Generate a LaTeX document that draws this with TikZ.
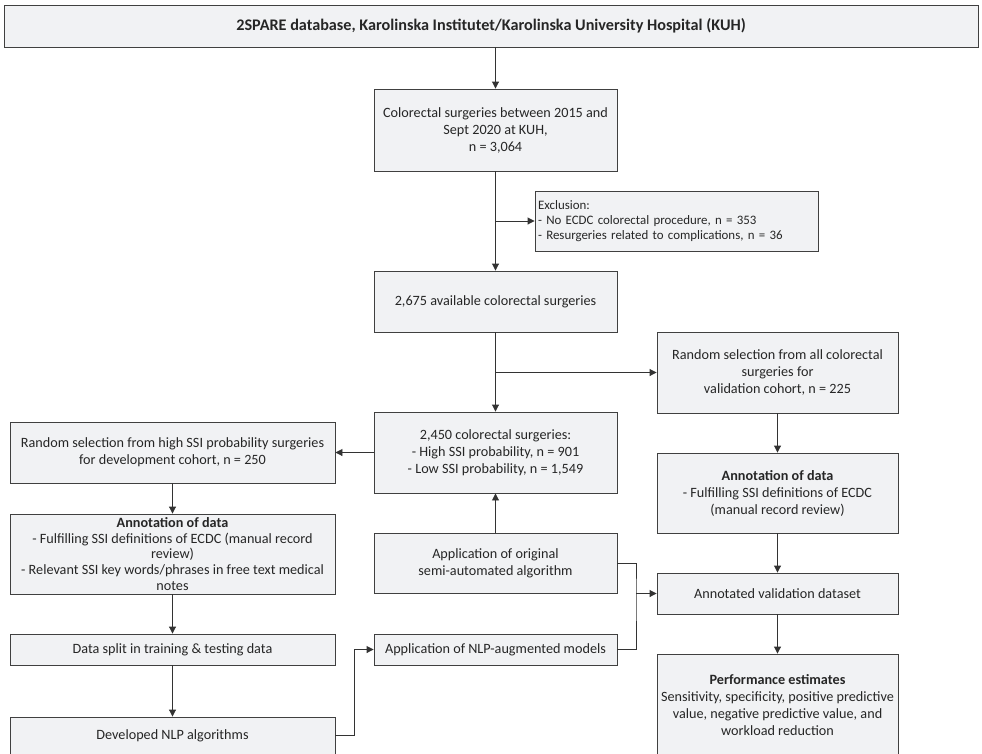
\documentclass[tikz,border=0pt]{standalone}
\usepackage{fontspec}
\setmainfont{Carlito}
\usetikzlibrary{arrows.meta}
\definecolor{boxfill}{RGB}{241,242,244}
\definecolor{boxline}{RGB}{64,64,64}
\definecolor{inktext}{RGB}{38,38,38}

\begin{document}
\begin{tikzpicture}[x=1pt, y=-1pt, >={Triangle[length=7pt,width=7pt]},
  font=\fontsize{14.2pt}{17pt}\selectfont, text=inktext,
  flowbox/.style={draw=boxline, fill=boxfill, line width=0.9pt, inner sep=0pt, align=center},
  notebox/.style={flowbox, align=left, inner xsep=3pt, font=\fontsize{12.9pt}{15.3pt}\selectfont},
  link/.style={draw=boxline!80!black, line width=0.9pt}]
\useasboundingbox (0,0) rectangle (982,753);
% source database
\node[flowbox, minimum width=974, minimum height=42, font=\fontsize{16.2pt}{19pt}\selectfont] (db) at (491,26)
  {\textbf{2SPARE database, Karolinska Institutet/Karolinska University Hospital (KUH)}};
% centre column
\node[flowbox, minimum width=243, minimum height=82] (allsurg) at (495.5,130)
  {Colorectal surgeries between 2015 and\\Sept 2020 at KUH,\\n = 3,064};
\node[notebox, minimum width=283, minimum height=60, text width=277] (excl) at (676.5,221)
  {Exclusion:\\- No ECDC colorectal procedure, n = 353\\- Resurgeries related to complications, n = 36};
\node[flowbox, minimum width=243, minimum height=61] (avail) at (495.5,301.5)
  {2,675 available colorectal surgeries};
\node[flowbox, minimum width=243, minimum height=81] (cohort) at (495.5,452.5)
  {2,450 colorectal surgeries:\\- High SSI probability, n = 901\\- Low SSI probability, n = 1,549};
\node[flowbox, minimum width=243, minimum height=60] (origalg) at (495.5,563)
  {Application of original\\semi-automated algorithm};
\node[flowbox, minimum width=243, minimum height=31] (nlpapp) at (495.5,649.5)
  {Application of NLP-augmented models};
% development column
\node[flowbox, minimum width=325, minimum height=61] (devsel) at (172.5,452.5)
  {Random selection from high SSI probability surgeries\\for development cohort, n = 250};
\node[flowbox, minimum width=325, minimum height=80, font=\fontsize{14.2pt}{15.8pt}\selectfont] (devanno) at (172.5,554)
  {\textbf{Annotation of data}\\- Fulfilling SSI definitions of ECDC (manual record\\review)\\- Relevant SSI key words/phrases in free text medical\\notes};
\node[flowbox, minimum width=325, minimum height=31] (split) at (172.5,649.5)
  {Data split in training \& testing data};
\node[flowbox, minimum width=325, minimum height=37] (nlpdev) at (172.5,735.5)
  {Developed NLP algorithms};
% validation column
\node[flowbox, minimum width=241, minimum height=81] (valsel) at (777.5,372.5)
  {Random selection from all colorectal\\surgeries for\\validation cohort, n = 225};
\node[flowbox, minimum width=241, minimum height=80] (valanno) at (777.5,493)
  {\textbf{Annotation of data}\\- Fulfilling SSI definitions of ECDC\\(manual record review)};
\node[flowbox, minimum width=241, minimum height=41] (valset) at (777.5,593.5)
  {Annotated validation dataset};
\node[flowbox, minimum width=241, minimum height=102] (perf) at (777.5,705)
  {\textbf{Performance estimates}\\Sensitivity, specificity, positive predictive\\value, negative predictive value, and\\workload reduction};
% connectors
\draw[link, ->] (allsurg.north |- db.south) -- (allsurg.north);
\draw[link, ->] (allsurg.south) -- (avail.north);
\draw[link, ->] (allsurg.south |- excl.west) -- (excl.west);
\draw[link, ->] (avail.south) -- (cohort.north);
\draw[link, ->] (avail.south |- valsel.west) -- (valsel.west);
\draw[link, ->] (cohort.west) -- (devsel.east);
\draw[link, ->] (origalg.north) -- (cohort.south);
\draw[link, ->] (devsel.south) -- (devanno.north);
\draw[link, ->] (devanno.south) -- (split.north);
\draw[link, ->] (split.south) -- (nlpdev.north);
\draw[link, ->] (nlpdev.east) -- ++(19,0) |- (nlpapp.west);
\coordinate (merge) at (636,593.5);
\draw[link] (origalg.east) -| (merge) |- (nlpapp.east);
\draw[link, ->] (merge) -- (valset.west);
\draw[link, ->] (valsel.south) -- (valanno.north);
\draw[link, ->] (valanno.south) -- (valset.north);
\draw[link, ->] (valset.south) -- (perf.north);
\end{tikzpicture}
\end{document}
